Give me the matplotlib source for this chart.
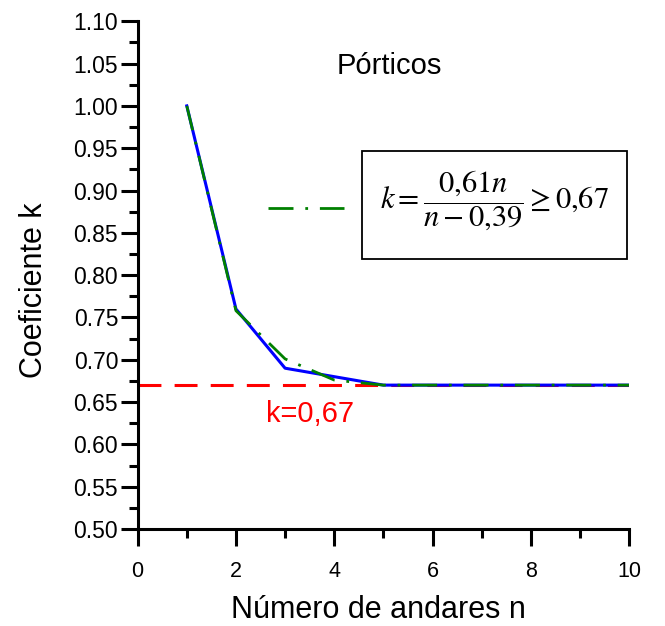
import matplotlib
matplotlib.use("Agg")
import matplotlib.pyplot as plt
from matplotlib.lines import Line2D
from matplotlib.patches import Rectangle
from matplotlib.ticker import MultipleLocator

plt.rcParams["font.family"] = ["Liberation Sans", "DejaVu Sans"]
plt.rcParams["mathtext.fontset"] = "stix"
plt.rcParams["lines.scale_dashes"] = False

# número de andares e coeficiente k
n = [1, 2, 3, 4, 5, 6, 7, 8, 9, 10]
k_porticos = [1.00, 0.76, 0.69, 0.68, 0.67, 0.67, 0.67, 0.67, 0.67, 0.67]
k_formula = [1.00, 0.758, 0.701, 0.676, 0.67, 0.67, 0.67, 0.67, 0.67, 0.67]
k_min = 0.67

fig = plt.figure(figsize=(6.65, 6.26), dpi=100)
ax = fig.add_axes([0.207, 0.155, 0.739, 0.811])

ax.axhline(k_min, color="#FF0000", lw=2.2, dashes=(16.5, 9.5), zorder=1)
ax.plot(n, k_porticos, color="#0000FF", lw=2.2, zorder=2)
ax.plot(n, k_formula, color="#008000", lw=2.0, dashes=(18, 8.5, 2, 8.5), zorder=3)

ax.set_xlim(0, 10)
ax.set_ylim(0.50, 1.10)
ax.xaxis.set_major_locator(MultipleLocator(2))
ax.xaxis.set_minor_locator(MultipleLocator(1))
ax.yaxis.set_major_locator(MultipleLocator(0.05))
ax.yaxis.set_minor_locator(MultipleLocator(0.025))
ax.yaxis.set_major_formatter(plt.FormatStrFormatter("%.2f"))

for s in ("top", "right"):
    ax.spines[s].set_visible(False)
for s in ("left", "bottom"):
    ax.spines[s].set_linewidth(2.2)
ax.tick_params(which="major", direction="out", length=12, width=2.2, pad=2)
ax.tick_params(which="minor", direction="out", length=6.5, width=2.2)
ax.tick_params(axis="y", labelsize=16.5)
ax.tick_params(axis="x", labelsize=15.5, pad=11)

ax.set_xlabel("Número de andares n", fontsize=22, va="top")
ax.set_ylabel("Coeficiente k", fontsize=22)
ax.xaxis.set_label_coords(0.49, -0.13)
ax.yaxis.set_label_coords(-0.18, 0.47)

ax.text(5.13, 1.038, "Pórticos", fontsize=21, ha="center", va="baseline")
ax.text(2.62, 0.6267, "k=0,67", fontsize=21, color="#FF0000",
        ha="left", va="baseline")

# legenda: amostra da linha + fórmula em caixa
ax.add_line(Line2D([0.265, 0.42], [0.632, 0.632], transform=ax.transAxes,
                   color="#008000", lw=2.0, dashes=(18, 8.5, 2, 8.5)))
ax.add_patch(Rectangle((0.4566, 0.5315), 0.5394, 0.2125, transform=ax.transAxes,
                       fill=False, ec="black", lw=1.3, clip_on=False))
ax.text(0.726, 0.646, r"$k=\dfrac{0{,}61n}{n-0{,}39}\geq 0{,}67$", fontsize=22,
        transform=ax.transAxes, ha="center", va="center")

fig.savefig("out.png", dpi=100)
